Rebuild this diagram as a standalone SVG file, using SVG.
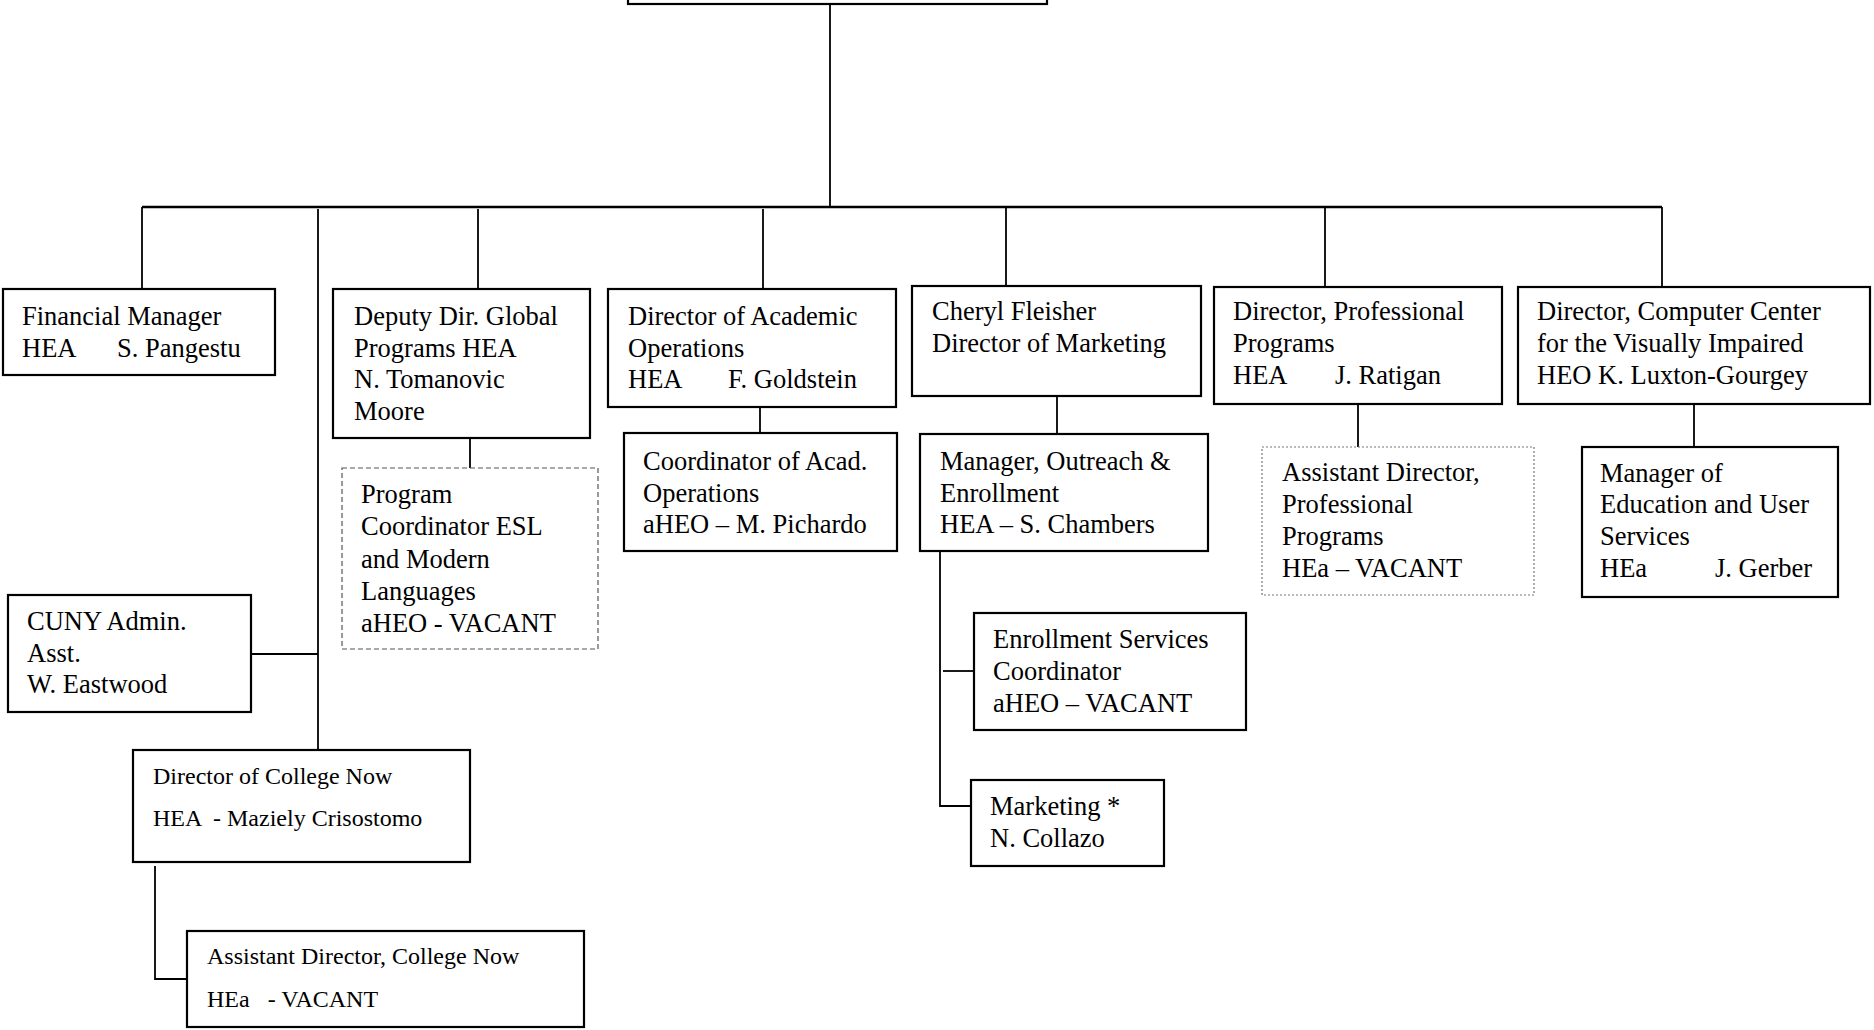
<svg xmlns="http://www.w3.org/2000/svg" width="1874" height="1030" viewBox="0 0 1874 1030">
<style>
.box{fill:#fff;stroke:#000;stroke-width:2.2}
.dash{fill:#fff;stroke:#555;stroke-width:1.2;stroke-dasharray:5 3}
.dot{fill:#fff;stroke:#777;stroke-width:1.2;stroke-dasharray:2 2}
.t{font-family:"Liberation Serif","Times New Roman",serif;font-size:26.5px;fill:#000}
.s{font-family:"Liberation Serif","Times New Roman",serif;font-size:24px;fill:#000}
.c{fill:none;stroke:#000;stroke-width:1.8}
</style>
<rect width="1874" height="1030" fill="#fff"/>
<g id="connectors">
<path class="c" d="M830 4V207"/>
<path class="c" d="M142 207H1662" style="stroke-width:2.4"/>
<path class="c" d="M142 207V289"/>
<path class="c" d="M318 209V750"/>
<path class="c" d="M251 654H318"/>
<path class="c" d="M478 209V289"/>
<path class="c" d="M763 209V289"/>
<path class="c" d="M1006 207V286"/>
<path class="c" d="M1325 207V287"/>
<path class="c" d="M1662 207V287"/>
<path class="c" d="M470 438V468"/>
<path class="c" d="M760 407V433"/>
<path class="c" d="M1057 396V434"/>
<path class="c" d="M1358 399V447"/>
<path class="c" d="M1694 399V447"/>
<path class="c" d="M940 551V806H971"/>
<path class="c" d="M943 671H974"/>
<path class="c" d="M155 866V979H187"/>
</g>
<g id="top"><rect class="box" x="628" y="-20" width="419" height="24"/></g>
<g id="financial"><rect class="box" x="3" y="289" width="272" height="86"/>
<text class="t" x="22" y="325">Financial Manager</text>
<text class="t" y="357"><tspan x="22">HEA</tspan><tspan x="117">S. Pangestu</tspan></text></g>
<g id="deputy"><rect class="box" x="333" y="289" width="257" height="149"/>
<text class="t" x="354" y="325">Deputy Dir. Global</text>
<text class="t" x="354" y="357">Programs HEA</text>
<text class="t" x="354" y="388">N. Tomanovic</text>
<text class="t" x="354" y="420">Moore</text></g>
<g id="academic"><rect class="box" x="608" y="289" width="288" height="118"/>
<text class="t" x="628" y="325">Director of Academic</text>
<text class="t" x="628" y="357">Operations</text>
<text class="t" y="388"><tspan x="628">HEA</tspan><tspan x="728">F. Goldstein</tspan></text></g>
<g id="cheryl"><rect class="box" x="912" y="286" width="289" height="110"/>
<text class="t" x="932" y="320">Cheryl Fleisher</text>
<text class="t" x="932" y="352">Director of Marketing</text></g>
<g id="professional"><rect class="box" x="1214" y="287" width="288" height="117"/>
<text class="t" x="1233" y="320">Director, Professional</text>
<text class="t" x="1233" y="352">Programs</text>
<text class="t" y="384"><tspan x="1233">HEA</tspan><tspan x="1335">J. Ratigan</tspan></text></g>
<g id="computer"><rect class="box" x="1518" y="287" width="352" height="117"/>
<text class="t" x="1537" y="320">Director, Computer Center</text>
<text class="t" x="1537" y="352">for the Visually Impaired</text>
<text class="t" x="1537" y="384">HEO K. Luxton-Gourgey</text></g>
<g id="coordinator"><rect class="box" x="624" y="433" width="273" height="118"/>
<text class="t" x="643" y="470">Coordinator of Acad.</text>
<text class="t" x="643" y="502">Operations</text>
<text class="t" x="643" y="533">aHEO – M. Pichardo</text></g>
<g id="manager-outreach"><rect class="box" x="920" y="434" width="288" height="117"/>
<text class="t" x="940" y="470">Manager, Outreach &amp;</text>
<text class="t" x="940" y="502">Enrollment</text>
<text class="t" x="940" y="533">HEA – S. Chambers</text></g>
<g id="asst-professional"><rect class="dot" x="1262" y="447" width="272" height="148"/>
<text class="t" x="1282" y="481">Assistant Director,</text>
<text class="t" x="1282" y="513">Professional</text>
<text class="t" x="1282" y="545">Programs</text>
<text class="t" x="1282" y="577">HEa – VACANT</text></g>
<g id="manager-education"><rect class="box" x="1582" y="447" width="256" height="150"/>
<text class="t" x="1600" y="482">Manager of</text>
<text class="t" x="1600" y="513">Education and User</text>
<text class="t" x="1600" y="545">Services</text>
<text class="t" y="577"><tspan x="1600">HEa</tspan><tspan x="1715">J. Gerber</tspan></text></g>
<g id="program-coordinator"><rect class="dash" x="342" y="468" width="256" height="181"/>
<text class="t" x="361" y="503">Program</text>
<text class="t" x="361" y="535">Coordinator ESL</text>
<text class="t" x="361" y="568">and Modern</text>
<text class="t" x="361" y="600">Languages</text>
<text class="t" x="361" y="632">aHEO - VACANT</text></g>
<g id="cuny-admin"><rect class="box" x="8" y="595" width="243" height="117"/>
<text class="t" x="27" y="630">CUNY Admin.</text>
<text class="t" x="27" y="662">Asst.</text>
<text class="t" x="27" y="693">W. Eastwood</text></g>
<g id="enrollment"><rect class="box" x="974" y="613" width="272" height="117"/>
<text class="t" x="993" y="648">Enrollment Services</text>
<text class="t" x="993" y="680">Coordinator</text>
<text class="t" x="993" y="712">aHEO – VACANT</text></g>
<g id="marketing"><rect class="box" x="971" y="780" width="193" height="86"/>
<text class="t" x="990" y="815">Marketing *</text>
<text class="t" x="990" y="847">N. Collazo</text></g>
<g id="college-now"><rect class="box" x="133" y="750" width="337" height="112"/>
<text class="s" x="153" y="784">Director of College Now</text>
<text class="s" x="153" y="826" xml:space="preserve">HEA  - Maziely Crisostomo</text></g>
<g id="asst-college-now"><rect class="box" x="187" y="931" width="397" height="96"/>
<text class="s" x="207" y="964">Assistant Director, College Now</text>
<text class="s" x="207" y="1007" xml:space="preserve">HEa   - VACANT</text></g>
</svg>
